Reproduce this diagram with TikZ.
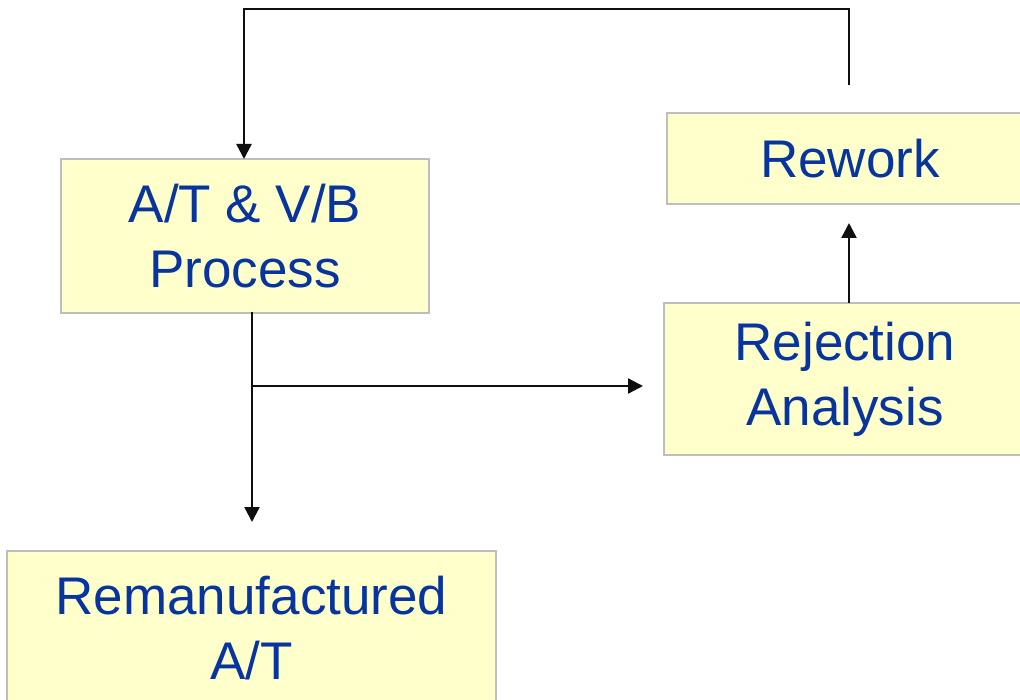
\documentclass[tikz,border=0pt]{standalone}
\usepackage{fontspec}
\setmainfont{Liberation Sans}
\usetikzlibrary{arrows.meta}
\definecolor{boxfill}{RGB}{255,255,204}
\definecolor{boxline}{RGB}{190,190,190}
\definecolor{labelblue}{RGB}{8,52,158}
\definecolor{wire}{RGB}{15,15,15}
\tikzset{
  stage/.style={draw=boxline, line width=1.5pt, fill=boxfill, text=labelblue,
    align=center, inner sep=0pt, outer sep=0pt,
    font=\fontsize{53}{65}\selectfont},
  flow/.style={draw=wire, line width=2.4pt,
    -{Triangle[width=15pt,length=15pt]}},
}
\begin{document}
\begin{tikzpicture}[x=1pt,y=-1pt]
  \clip (0,0) rectangle (1020,700);
  \fill[white] (0,0) rectangle (1020,700);

  % process stages
  \node[stage, minimum width=368pt, minimum height=154pt] (proc) at (245,236)
    {A/T \& V/B\\Process};
  \node[stage, minimum width=366pt, minimum height=91pt] (rework) at (850,158.5)
    {Rework};
  \node[stage, minimum width=362pt, minimum height=152pt] (reject) at (845,379)
    {Rejection\\Analysis};
  \node[stage, minimum width=489pt, minimum height=154pt] (reman) at (251.5,628)
    {Remanufactured\\A/T};

  % free ends of the connectors
  \coordinate (loopStart) at (849,85);
  \coordinate (loopTop) at (244,9);
  \coordinate (split) at (252,386);
  \coordinate (splitStart) at (252,312);
  \coordinate (downEnd) at (252,522);
  \coordinate (rightEnd) at (643,386);
  \coordinate (upEnd) at (849,223);

  % feedback loop from rework back into the process
  \draw[flow] (loopStart) |- (loopTop) -- (loopTop |- proc.north);
  % process output: down to remanufactured, across to rejection analysis
  \draw[flow] (splitStart) -- (downEnd);
  \draw[flow] (split) -- (rightEnd);
  % rejection analysis up to rework
  \draw[flow] (reject.north -| upEnd) -- (upEnd);
\end{tikzpicture}
\end{document}
